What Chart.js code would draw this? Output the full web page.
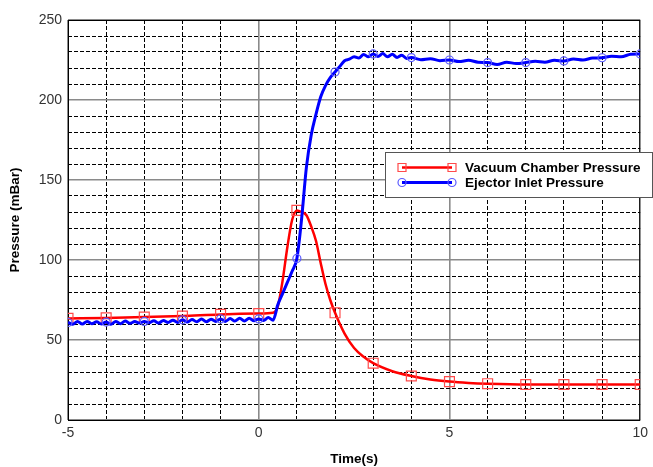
<!DOCTYPE html>
<html>
<head>
<meta charset="utf-8">
<script src="https://cdn.jsdelivr.net/npm/chart.js@4"></script>
<style>
    html, body { margin: 0; padding: 0; background: #fff; }
    canvas { display: block; }
</style>
</head>
<body>
<canvas id="pressureChart" width="653" height="467"></canvas>
<script>
// Vacuum chamber pressure (red, square markers at whole seconds)
const chamberTime = [-5, -4, -3, -2, -1, 0, 0.375, 0.5, 0.625, 0.75, 0.875, 1, 1.125, 1.25, 1.375, 1.5,
    1.625, 1.75, 1.875, 2, 2.25, 2.5, 2.75, 3, 3.5, 4, 4.5, 5, 5.5, 6, 7, 8, 9, 10];
const chamberPressure = [63.5, 63.8, 64.3, 65, 66, 66.5, 67, 71, 87, 108, 125, 131, 130, 128, 121, 112,
    98, 85, 75, 67, 54, 45, 39.5, 35.5, 30.5, 27.5, 25.3, 24, 23.2, 22.7, 22.2, 22.2, 22.2, 22.2];

// Ejector inlet pressure (blue, circle markers at whole seconds)
const inletTime = [-5, -4.875, -4.75, -4.625, -4.5, -4.375, -4.25, -4.125, -4, -3.875, -3.75, -3.625,
    -3.5, -3.375, -3.25, -3.125, -3, -2.875, -2.75, -2.625, -2.5, -2.375, -2.25, -2.125, -2, -1.875,
    -1.75, -1.625, -1.5, -1.375, -1.25, -1.125, -1, -0.875, -0.75, -0.625, -0.5, -0.375, -0.25, -0.125,
    0, 0.125, 0.25, 0.375, 0.5, 0.625, 0.75, 0.875, 1, 1.125, 1.25, 1.375, 1.5, 1.625, 1.75, 1.875,
    2, 2.125, 2.25, 2.375, 2.5, 2.625, 2.75, 2.875, 3, 3.125, 3.25, 3.375, 3.5, 3.625, 3.75, 3.875,
    4, 4.25, 4.5, 4.75, 5, 5.25, 5.5, 5.75, 6, 6.25, 6.5, 6.75, 7, 7.25, 7.5, 7.75, 8, 8.25, 8.5, 8.75,
    9, 9.25, 9.5, 9.75, 10];
const inletPressure = [61, 59.8, 61.5, 60, 61.6, 60.2, 61.4, 60, 61.2, 59.8, 61.6, 60.2,
    61.8, 60.4, 61.5, 60.6, 61.6, 60.8, 62, 60.6, 62.2, 61, 62.4, 61, 62.6, 61.2,
    62.8, 61.4, 63.2, 61.4, 63, 61.6, 63.2, 61.6, 63.4, 61.8, 63.6, 61.8, 63.6, 62,
    63.2, 62.2, 64, 62.4, 72, 79, 86, 93, 101, 126, 158, 178, 191, 202, 209, 214,
    217.5, 221, 224.5, 225.5, 227, 226.2, 228.5, 227, 228.8, 227.2, 229, 227, 228.6, 226.6, 228, 226,
    226.5, 225.2, 225.8, 224.6, 225, 224, 224.8, 223.6, 223.4, 222.2, 223.6, 222.8, 223.4, 224.2, 223.6, 224.8,
    224.4, 225.6, 225, 226.2, 226.4, 227.4, 227, 228.6, 228.8];

const seriesLabels = ['Vacuum Chamber Pressure', 'Ejector Inlet Pressure'];
const xLabelTicks = [-5, 0, 5, 10];
const yLabelTicks = [0, 50, 100, 150, 200, 250];

function toPoints(xs, ys) {
    return xs.map((x, i) => ({ x: x, y: ys[i] }));
}

const markerAtWholeSecond = size => ctx => Number.isInteger(ctx.raw.x) ? size : 0;

// black frame round the plot area
const framePlugin = {
    id: 'frame',
    beforeDatasetsDraw(chart) {
        const { ctx, chartArea: a } = chart;
        ctx.save();
        ctx.strokeStyle = '#000';
        ctx.lineWidth = 1;
        ctx.strokeRect(a.left + 0.5, a.top + 0.5, a.right - a.left - 1, a.bottom - a.top);
        ctx.restore();
    }
};

// boxed legend like the original figure
const legendPlugin = {
    id: 'boxLegend',
    afterDraw(chart) {
        const ctx = chart.ctx;
        ctx.save();
        ctx.fillStyle = '#fff';
        ctx.fillRect(386, 153, 267, 45);
        ctx.strokeStyle = '#555';
        ctx.lineWidth = 1;
        ctx.strokeRect(385.5, 152.5, 267, 45);

        chart.data.datasets.forEach((ds, i) => {
            const y = 167.5 + i * 15;
            ctx.strokeStyle = ds.borderColor;
            ctx.lineWidth = ds.borderWidth;
            ctx.beginPath();
            ctx.moveTo(402, y);
            ctx.lineTo(452, y);
            ctx.stroke();

            ctx.strokeStyle = ds.pointBorderColor;
            ctx.lineWidth = 1.2;
            [402, 452].forEach(mx => {
                ctx.beginPath();
                if (ds.pointStyle === 'rect') {
                    ctx.rect(mx - 4, y - 4, 8, 8);
                } else {
                    ctx.arc(mx, y, 4, 0, Math.PI * 2);
                }
                ctx.stroke();
            });

            ctx.fillStyle = '#000';
            ctx.font = "bold 13.5px 'Liberation Sans', Arial, sans-serif";
            ctx.textBaseline = 'middle';
            ctx.textAlign = 'left';
            ctx.fillText(ds.label, 465, y + 0.5);
        });
        ctx.restore();
    }
};

const tickFont = { family: "'Liberation Sans', Arial, sans-serif", size: 14 };
const titleFont = { family: "'Liberation Sans', Arial, sans-serif", size: 13.5, weight: 'bold' };

new Chart(document.getElementById('pressureChart'), {
    type: 'line',
    data: {
        datasets: [
            {
                label: seriesLabels[0],
                data: toPoints(chamberTime, chamberPressure),
                borderColor: '#ff0000',
                borderWidth: 2.5,
                cubicInterpolationMode: 'monotone',
                pointStyle: 'rect',
                pointRadius: markerAtWholeSecond(7),
                pointBorderColor: '#ff4a4a',
                pointBackgroundColor: 'rgba(0,0,0,0)',
                pointBorderWidth: 1.2,
                order: 2
            },
            {
                label: seriesLabels[1],
                data: toPoints(inletTime, inletPressure),
                borderColor: '#0000ff',
                borderWidth: 3,
                cubicInterpolationMode: 'monotone',
                pointStyle: 'circle',
                pointRadius: markerAtWholeSecond(4),
                pointBorderColor: '#5a5aff',
                pointBackgroundColor: 'rgba(0,0,0,0)',
                pointBorderWidth: 1.2,
                order: 1
            }
        ]
    },
    options: {
        responsive: false,
        animation: false,
        events: [],
        layout: { padding: { left: 0, top: 20, right: 5, bottom: 0 } },
        plugins: {
            legend: { display: false },
            tooltip: { enabled: false }
        },
        scales: {
            x: {
                type: 'linear',
                min: -5,
                max: 10,
                afterFit: scale => { scale.height = 47; },
                ticks: {
                    stepSize: 1,
                    autoSkip: false,
                    maxRotation: 0,
                    padding: 5,
                    color: '#333',
                    font: tickFont,
                    callback: v => xLabelTicks.includes(v) ? String(v) : ''
                },
                grid: {
                    drawTicks: false,
                    color: c => c.tick && c.tick.value % 5 === 0 ? '#8a8a8a' : '#000',
                    lineWidth: c => c.tick && c.tick.value % 5 === 0 ? 1.6 : 1
                },
                border: {
                    display: false,
                    dash: c => c.tick && c.tick.value % 5 === 0 ? [] : [4, 2]
                },
                title: {
                    display: true,
                    text: 'Time(s)',
                    color: '#000',
                    font: titleFont,
                    padding: { top: 0, bottom: 0 }
                }
            },
            y: {
                min: 0,
                max: 250,
                afterFit: scale => { scale.width = 68; },
                ticks: {
                    stepSize: 10,
                    autoSkip: false,
                    padding: 6,
                    color: '#333',
                    font: tickFont,
                    callback: v => yLabelTicks.includes(v) ? String(v) : ''
                },
                grid: {
                    drawTicks: false,
                    color: c => c.tick && c.tick.value % 50 === 0 ? '#8a8a8a' : '#000',
                    lineWidth: c => c.tick && c.tick.value % 50 === 0 ? 1.6 : 1
                },
                border: {
                    display: false,
                    dash: c => c.tick && c.tick.value % 50 === 0 ? [] : [4, 2]
                },
                title: {
                    display: true,
                    text: 'Pressure (mBar)',
                    color: '#000',
                    font: titleFont,
                    padding: { top: 7, bottom: 0 }
                }
            }
        }
    },
    plugins: [framePlugin, legendPlugin]
});
</script>
</body>
</html>
